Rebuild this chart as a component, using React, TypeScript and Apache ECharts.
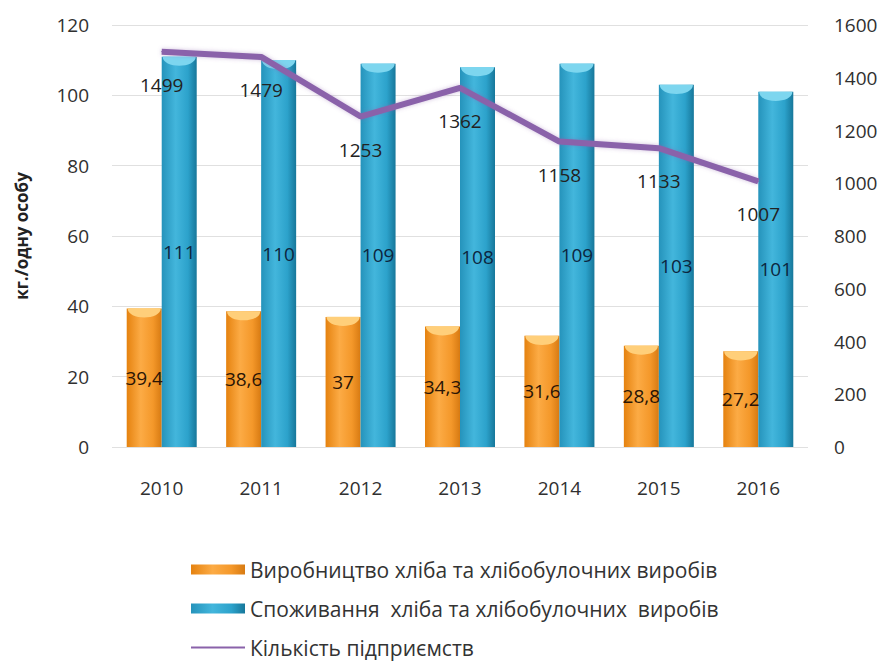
import React, { useEffect, useRef } from "react";
import * as echarts from "echarts";

const years = ["2010", "2011", "2012", "2013", "2014", "2015", "2016"];
const production = [39.4, 38.6, 37, 34.3, 31.6, 28.8, 27.2];
const consumption = [111, 110, 109, 108, 109, 103, 101];
const enterprises = [1499, 1479, 1253, 1362, 1158, 1133, 1007];

const seriesNames = [
  "Виробництво хліба та хлібобулочних виробів",
  "Споживання  хліба та хлібобулочних  виробів",
  "Кількість підприємств",
];

const FONT = "'Open Sans', 'Noto Sans', sans-serif";
const CAP = "path://M0,0 L40,0 C40,11 0,11 0,0 Z";

export default function App() {
  const ref = useRef<HTMLDivElement>(null);
  useEffect(() => {
    if (!ref.current) return;
    const chart = echarts.init(ref.current, null, { renderer: "svg" });
    const orangeGrad = new echarts.graphic.LinearGradient(0, 0, 1, 0, [
      { offset: 0, color: "#e5820f" },
      { offset: 0.4, color: "#fcab45" },
      { offset: 0.75, color: "#f4982a" },
      { offset: 1, color: "#d77a12" },
    ]);
    const cyanGrad = new echarts.graphic.LinearGradient(0, 0, 1, 0, [
      { offset: 0, color: "#2593bb" },
      { offset: 0.4, color: "#43b6dc" },
      { offset: 0.75, color: "#2ca2cb" },
      { offset: 1, color: "#17779a" },
    ]);
    const fmt = (p: any) => String(p.value).replace(".", ",");
    const BW = 35;
    const legendBase = {
      orient: "vertical",
      left: 186,
      itemWidth: 54,
      itemHeight: 10,
      textStyle: { fontSize: 21, color: "#333333", fontFamily: FONT },
    };
    chart.setOption({
      animation: false,
      backgroundColor: "#ffffff",
      textStyle: { fontFamily: FONT },
      grid: { left: 112, right: 76, top: 25, bottom: 219 },
      legend: [
        { ...legendBase, top: 554, data: [{ name: seriesNames[0], icon: "rect" }] },
        { ...legendBase, top: 593, data: [{ name: seriesNames[1], icon: "rect" }] },
        {
          ...legendBase,
          top: 632,
          data: [{ name: seriesNames[2], icon: "path://M0,4 L54,4 L54,6 L0,6 Z" }],
        },
      ],
      xAxis: {
        type: "category",
        data: years,
        axisLine: { show: false },
        axisTick: { show: false },
        axisLabel: { fontSize: 19, color: "#303030", margin: 31 },
      },
      yAxis: [
        {
          type: "value",
          min: 0,
          max: 120,
          interval: 20,
          name: "кг./одну особу",
          nameLocation: "middle",
          nameRotate: 90,
          nameGap: 82,
          nameTextStyle: { fontSize: 17, fontWeight: "bold", color: "#222222" },
          axisLine: { show: false },
          axisTick: { show: false },
          axisLabel: { fontSize: 19, color: "#303030", margin: 23 },
          splitLine: { lineStyle: { color: "#e0e0e0", width: 1 } },
        },
        {
          type: "value",
          min: 0,
          max: 1600,
          interval: 200,
          axisLine: { show: false },
          axisTick: { show: false },
          axisLabel: {
            fontSize: 19,
            color: "#303030",
            margin: 26,
            formatter: (v: number) => String(v),
          },
          splitLine: { show: false },
        },
      ],
      series: [
        {
          name: seriesNames[0],
          type: "bar",
          data: production,
          barWidth: BW,
          barGap: "0%",
          itemStyle: { color: orangeGrad },
          label: {
            show: true,
            position: "inside",
            formatter: fmt,
            fontSize: 19,
            color: "#2a1505",
          },
        },
        {
          name: seriesNames[1],
          type: "bar",
          data: consumption,
          barWidth: BW,
          barGap: "0%",
          itemStyle: { color: cyanGrad },
          label: {
            show: true,
            position: "inside",
            formatter: fmt,
            fontSize: 19,
            color: "#0c2640",
          },
        },
        {
          name: "capOrange",
          type: "pictorialBar",
          data: production,
          symbol: CAP,
          symbolSize: [BW - 2, 9],
          symbolPosition: "end",
          symbolOffset: [-BW / 2, 0],
          itemStyle: { color: "#ffcf7a" },
          z: 3,
          silent: true,
        },
        {
          name: "capCyan",
          type: "pictorialBar",
          data: consumption,
          symbol: CAP,
          symbolSize: [BW - 2, 9],
          symbolPosition: "end",
          symbolOffset: [BW / 2, 0],
          itemStyle: { color: "#7dd6ef" },
          z: 3,
          silent: true,
        },
        {
          name: seriesNames[2],
          type: "line",
          yAxisIndex: 1,
          data: enterprises,
          symbol: "circle",
          symbolSize: 1,
          showSymbol: true,
          lineStyle: {
            color: "#8a62aa",
            width: 6,
            shadowColor: "rgba(138,98,170,0.4)",
            shadowBlur: 4,
          },
          itemStyle: { color: "#8a62aa" },
          label: {
            show: true,
            position: "bottom",
            distance: 23,
            fontSize: 19,
            color: "#222222",
          },
          z: 5,
        },
      ],
    });
    return () => chart.dispose();
  }, []);
  return (
    <div
      ref={ref}
      style={{ position: "fixed", left: 0, top: 0, width: 884, height: 666 }}
    />
  );
}
